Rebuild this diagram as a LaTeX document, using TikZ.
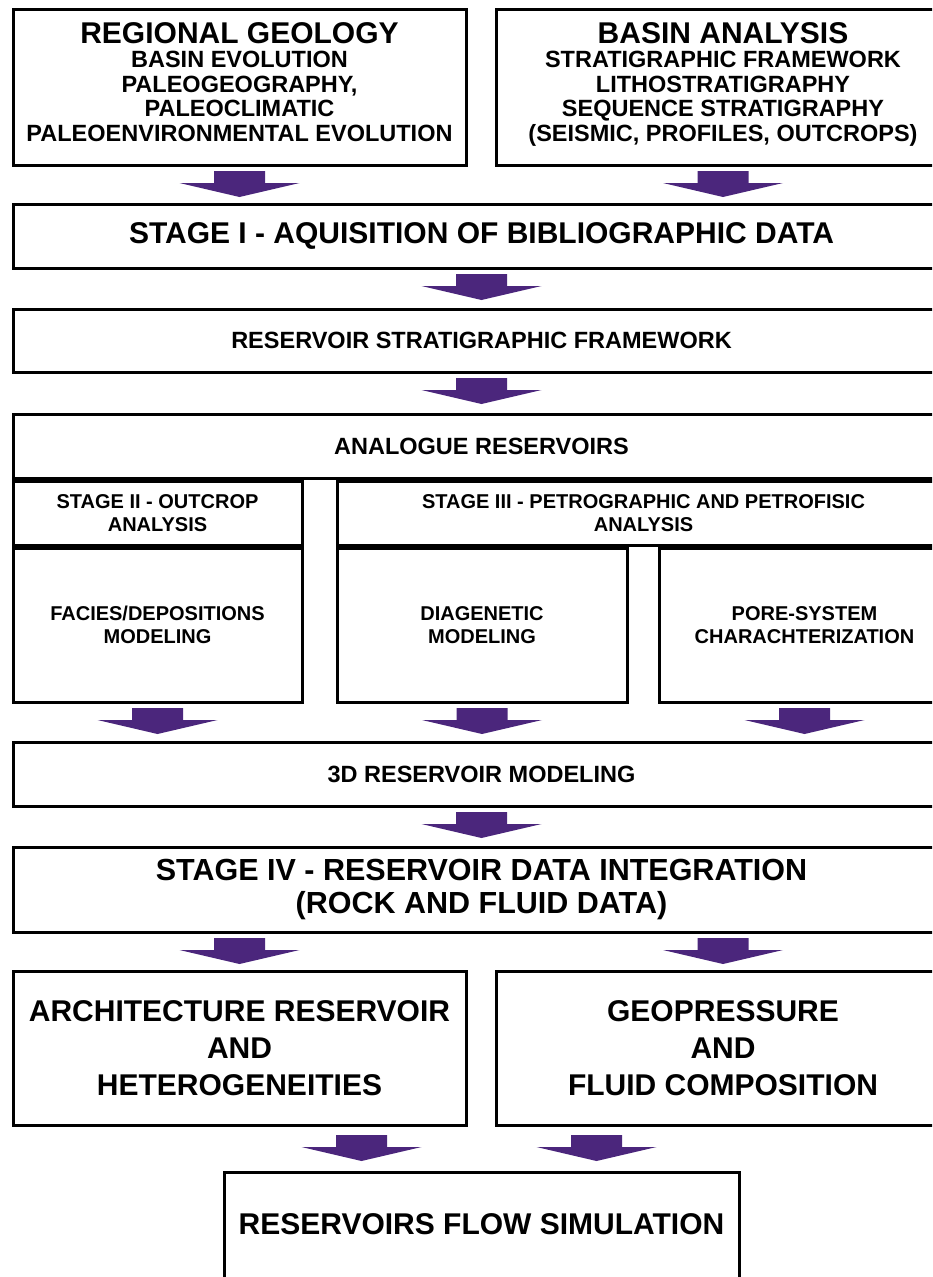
\documentclass[tikz,border=0pt]{standalone}
\usepackage{fontspec}
\setmainfont{Liberation Sans}
\usetikzlibrary{calc}
\definecolor{flowpurple}{RGB}{75,38,124}
\newcommand\boxbig{\fontsize{30}{37}\selectfont}
\newcommand\boxmid{\fontsize{23.5}{24.5}\selectfont}
\newcommand\boxsmall{\fontsize{20}{23}\selectfont}
\begin{document}
\begin{tikzpicture}[x=1pt,y=-1pt,
  box/.style={draw,line width=3pt,inner sep=0pt,outer sep=0pt,align=center},
  downarrow/.pic={\fill[flowpurple] (-25.5,6) -- (25.5,6) -- (25.5,18) -- (60,18)
    -- (0,32) -- (-60,18) -- (-25.5,18) -- cycle;}]
\useasboundingbox (0,0) rectangle (932,1277);
\clip (0,0) rectangle (932,1277);
% sources
\node[box,minimum width=453pt,minimum height=156pt,text depth=10pt,font=\bfseries\boxmid] (regional) at (239.5,87)
  {{\boxbig REGIONAL GEOLOGY}\\ BASIN EVOLUTION\\ PALEOGEOGRAPHY,\\ PALEOCLIMATIC\\ PALEOENVIRONMENTAL EVOLUTION};
\node[box,minimum width=454pt,minimum height=156pt,text depth=10pt,font=\bfseries\boxmid] (basin) at (723,87)
  {{\boxbig BASIN ANALYSIS}\\ STRATIGRAPHIC FRAMEWORK\\ LITHOSTRATIGRAPHY\\ SEQUENCE STRATIGRAPHY\\ (SEISMIC, PROFILES, OUTCROPS)};
% stage I and framework
\node[box,minimum width=937pt,minimum height=64pt,font=\bfseries\boxbig] (stageI) at (481.5,236)
  {STAGE I - AQUISITION OF BIBLIOGRAPHIC DATA};
\node[box,minimum width=937pt,minimum height=63pt,font=\bfseries\boxmid] (resframe) at (481.5,340.5)
  {RESERVOIR STRATIGRAPHIC FRAMEWORK};
\node[box,minimum width=937pt,minimum height=64pt,font=\bfseries\boxmid] (analogue) at (481.5,446)
  {ANALOGUE RESERVOIRS};
% stages II and III
\node[box,minimum width=289pt,minimum height=64pt,font=\bfseries\boxsmall] (stageII) at (157.5,513)
  {STAGE II - OUTCROP\\ ANALYSIS};
\node[box,minimum width=613pt,minimum height=64pt,font=\bfseries\boxsmall] (stageIII) at (643.5,513)
  {STAGE III - PETROGRAPHIC AND PETROFISIC\\ ANALYSIS};
\node[box,minimum width=289pt,minimum height=154pt,font=\bfseries\boxsmall] (facies) at (157.5,625)
  {FACIES/DEPOSITIONS\\ MODELING};
\node[box,minimum width=290pt,minimum height=154pt,font=\bfseries\boxsmall] (diag) at (482,625)
  {DIAGENETIC\\ MODELING};
\node[box,minimum width=291pt,minimum height=154pt,font=\bfseries\boxsmall] (pore) at (804.5,625)
  {PORE-SYSTEM\\ CHARACHTERIZATION};
% modeling and integration
\node[box,minimum width=937pt,minimum height=64pt,font=\bfseries\boxmid] (model3d) at (481.5,774)
  {3D RESERVOIR MODELING};
\node[box,minimum width=937pt,minimum height=85pt,font=\bfseries\fontsize{30.5}{33}\selectfont] (stageIV) at (481.5,889.5)
  {STAGE IV - RESERVOIR DATA INTEGRATION\\ (ROCK AND FLUID DATA)};
\node[box,minimum width=453pt,minimum height=154pt,font=\bfseries\boxbig] (archi) at (239.5,1048)
  {ARCHITECTURE RESERVOIR\\ AND\\ HETEROGENEITIES};
\node[box,minimum width=454pt,minimum height=154pt,font=\bfseries\boxbig] (geo) at (723,1048)
  {GEOPRESSURE\\ AND\\ FLUID COMPOSITION};
\node[box,anchor=north,minimum width=515pt,text height=62pt,text depth=80pt,font=\bfseries\boxbig] (flow) at (481.5,1172)
  {RESERVOIRS FLOW SIMULATION};
% arrows
\pic at (regional.south) {downarrow};
\pic at (basin.south) {downarrow};
\pic at (stageI.south) {downarrow};
\pic at (resframe.south) {downarrow};
\pic at (facies.south) {downarrow};
\pic at (diag.south) {downarrow};
\pic at (pore.south) {downarrow};
\pic at (model3d.south) {downarrow};
\pic at (archi.north |- stageIV.south) {downarrow};
\pic at (geo.north |- stageIV.south) {downarrow};
\pic at ($(flow.north |- archi.south)+(-120,4)$) {downarrow};
\pic at ($(flow.north |- archi.south)+(115,4)$) {downarrow};
\end{tikzpicture}
\end{document}
